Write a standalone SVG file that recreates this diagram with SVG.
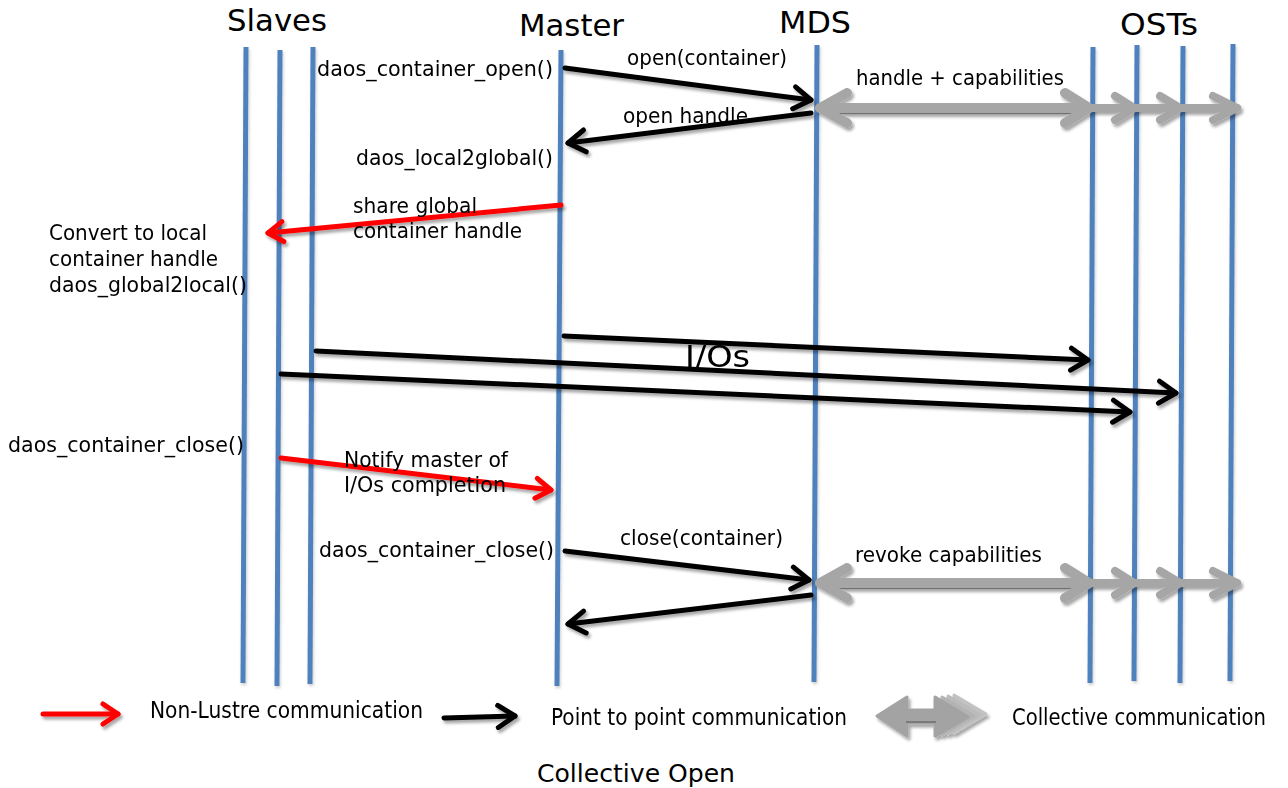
<svg xmlns="http://www.w3.org/2000/svg" width="1288" height="788" viewBox="0 0 1288 788">
  <style>
    .life { stroke: #4F81BD; stroke-width: 5; fill: none; }
    .hdr { font-family: "DejaVu Sans", Verdana, sans-serif; font-size: 31px; fill: #000; }
    .lbl { font-family: "DejaVu Sans", Verdana, sans-serif; font-size: 20.5px; fill: #000; }
    .leg { font-family: "DejaVu Sans", Verdana, sans-serif; font-size: 23px; fill: #000; }
    .cap { font-family: "DejaVu Sans", Verdana, sans-serif; font-size: 24px; fill: #000; }
    .p2p { stroke: #000; stroke-width: 5; fill: none; stroke-linecap: round; }
    .nonl { stroke: #FF0000; stroke-width: 5; fill: none; stroke-linecap: round; }
    .coll { stroke: #A6A6A6; fill: none; stroke-linecap: round; stroke-linejoin: round; }
  </style>
  <defs>
    <filter id="shadow" filterUnits="userSpaceOnUse" x="0" y="0" width="1288" height="788">
      <feDropShadow dx="2" dy="3" stdDeviation="1.5" flood-color="#000" flood-opacity="0.35"/>
    </filter>
    <filter id="soft" filterUnits="userSpaceOnUse" x="0" y="0" width="1288" height="788">
      <feDropShadow dx="1" dy="2" stdDeviation="1.5" flood-color="#000" flood-opacity="0.2"/>
    </filter>
    <marker id="head-black" viewBox="-24 -14 28 28" refX="0" refY="0" markerWidth="28" markerHeight="28" markerUnits="userSpaceOnUse" orient="auto">
      <path d="M-17,-11 L0,0 L-17,11" fill="none" stroke="#000" stroke-width="5" stroke-linecap="round" stroke-linejoin="round"/>
    </marker>
    <marker id="head-red" viewBox="-24 -14 28 28" refX="0" refY="0" markerWidth="28" markerHeight="28" markerUnits="userSpaceOnUse" orient="auto">
      <path d="M-15,-10 L0,0 L-15,10" fill="none" stroke="#FF0000" stroke-width="5" stroke-linecap="round" stroke-linejoin="round"/>
    </marker>
    <!-- collective broadcast: MDS to every OST, drawn around y = 0 -->
    <g id="collective">
      <line x1="826" y1="4" x2="1084" y2="4" stroke="#6F6F6F" stroke-width="4" stroke-linecap="round"/>
      <line class="coll" x1="824" y1="0" x2="1086" y2="0" stroke-width="10"/>
      <line class="coll" x1="1086" y1="0" x2="1237" y2="0" stroke-width="8"/>
      <path class="coll" d="M847,-15 L820,0 L847,15" stroke-width="10"/>
      <path class="coll" d="M1065,-15 L1089,0 L1065,15" stroke-width="10"/>
      <path class="coll" d="M1115,-12 L1134,0 L1115,12" stroke-width="8"/>
      <path class="coll" d="M1160,-12 L1180,0 L1160,12" stroke-width="8"/>
      <path class="coll" d="M1213,-12 L1237,0 L1213,12" stroke-width="8"/>
    </g>
    <!-- one right-pointing head of the legend's collective symbol -->
    <path id="stack-head" d="M930,698 L962,717 L930,736 Z" stroke-width="3" stroke-linejoin="round"/>
  </defs>

  <rect width="1288" height="788" fill="#FFFFFF"/>

  <!-- lifelines -->
  <g filter="url(#soft)">
    <g id="slave-1"><line class="life" x1="246" y1="47" x2="243" y2="683"/></g>
    <g id="slave-2"><line class="life" x1="280" y1="50" x2="277" y2="686"/></g>
    <g id="slave-3"><line class="life" x1="313" y1="47" x2="310" y2="684"/></g>
    <g id="master"><line class="life" x1="561" y1="50" x2="557" y2="686"/></g>
    <g id="mds"><line class="life" x1="817" y1="45" x2="814" y2="682"/></g>
    <g id="ost-1"><line class="life" x1="1093" y1="47" x2="1090" y2="683"/></g>
    <g id="ost-2"><line class="life" x1="1137" y1="45" x2="1134" y2="681"/></g>
    <g id="ost-3"><line class="life" x1="1183" y1="46" x2="1180" y2="683"/></g>
    <g id="ost-4"><line class="life" x1="1233" y1="44" x2="1230" y2="681"/></g>
  </g>

  <!-- column headers -->
  <g id="headers">
    <text class="hdr" x="227" y="31" textLength="100" lengthAdjust="spacingAndGlyphs">Slaves</text>
    <text class="hdr" x="519" y="36" textLength="105" lengthAdjust="spacingAndGlyphs">Master</text>
    <text class="hdr" x="779" y="33" textLength="72" lengthAdjust="spacingAndGlyphs">MDS</text>
    <text class="hdr" x="1120" y="35" textLength="78" lengthAdjust="spacingAndGlyphs">OSTs</text>
  </g>

  <!-- messages -->
  <g id="connectors" filter="url(#shadow)">
    <line class="p2p" x1="565" y1="68" x2="811" y2="100" marker-end="url(#head-black)"/>
    <line class="p2p" x1="811" y1="113" x2="568" y2="143" marker-end="url(#head-black)"/>
    <line class="nonl" x1="561" y1="205" x2="268" y2="233" marker-end="url(#head-red)"/>
    <line class="p2p" x1="564" y1="336" x2="1088" y2="360" marker-end="url(#head-black)"/>
    <line class="p2p" x1="316" y1="351" x2="1176" y2="393" marker-end="url(#head-black)"/>
    <line class="p2p" x1="281" y1="374" x2="1130" y2="412" marker-end="url(#head-black)"/>
    <line class="nonl" x1="281" y1="458" x2="551" y2="490" marker-end="url(#head-red)"/>
    <line class="p2p" x1="565" y1="551" x2="809" y2="580" marker-end="url(#head-black)"/>
    <line class="p2p" x1="811" y1="595" x2="568" y2="624" marker-end="url(#head-black)"/>
    <use href="#collective" y="108"/>
    <use href="#collective" y="583"/>
  </g>

  <!-- message labels -->
  <g id="labels">
    <text class="lbl" x="317" y="76" textLength="236" lengthAdjust="spacingAndGlyphs">daos_container_open()</text>
    <text class="lbl" x="627" y="65" textLength="160" lengthAdjust="spacingAndGlyphs">open(container)</text>
    <text class="lbl" x="856" y="85" textLength="208" lengthAdjust="spacingAndGlyphs">handle + capabilities</text>
    <text class="lbl" x="623" y="123" textLength="125" lengthAdjust="spacingAndGlyphs">open handle</text>
    <text class="lbl" x="356" y="165" textLength="197" lengthAdjust="spacingAndGlyphs">daos_local2global()</text>
    <text class="lbl" x="353" y="213" textLength="124" lengthAdjust="spacingAndGlyphs">share global</text>
    <text class="lbl" x="353" y="238" textLength="169" lengthAdjust="spacingAndGlyphs">container handle</text>
    <text class="lbl" x="49" y="240" textLength="158" lengthAdjust="spacingAndGlyphs">Convert to local</text>
    <text class="lbl" x="49" y="266" textLength="169" lengthAdjust="spacingAndGlyphs">container handle</text>
    <text class="lbl" x="49" y="292" textLength="198" lengthAdjust="spacingAndGlyphs">daos_global2local()</text>
    <text class="hdr" x="685" y="367" textLength="65" lengthAdjust="spacingAndGlyphs">I/Os</text>
    <text class="lbl" x="8" y="452" textLength="236" lengthAdjust="spacingAndGlyphs">daos_container_close()</text>
    <text class="lbl" x="344" y="467" textLength="164" lengthAdjust="spacingAndGlyphs">Notify master of</text>
    <text class="lbl" x="344" y="492" textLength="162" lengthAdjust="spacingAndGlyphs">I/Os completion</text>
    <text class="lbl" x="319" y="557" textLength="235" lengthAdjust="spacingAndGlyphs">daos_container_close()</text>
    <text class="lbl" x="620" y="545" textLength="163" lengthAdjust="spacingAndGlyphs">close(container)</text>
    <text class="lbl" x="855" y="562" textLength="187" lengthAdjust="spacingAndGlyphs">revoke capabilities</text>
  </g>

  <!-- legend -->
  <g id="legend">
    <g filter="url(#shadow)">
      <line class="nonl" x1="43" y1="714" x2="118" y2="714" marker-end="url(#head-red)"/>
      <line class="p2p" x1="444" y1="718" x2="515" y2="716" marker-end="url(#head-black)"/>
      <use href="#stack-head" x="24" y="-3" fill="#C2C2C2" stroke="#C2C2C2"/>
      <use href="#stack-head" x="18" y="-2" fill="#BBBBBB" stroke="#BBBBBB"/>
      <use href="#stack-head" x="12" y="-1" fill="#B3B3B3" stroke="#B3B3B3"/>
      <use href="#stack-head" x="6" y="0" fill="#ABABAB" stroke="#ABABAB"/>
      <path d="M877,716 L907,697 L907,710 L935,710 L935,697 L968,717 L935,736 L935,723 L907,723 L907,736 Z" fill="#A3A3A3" stroke="#A3A3A3" stroke-width="3" stroke-linejoin="round"/>
      <line x1="906" y1="722" x2="936" y2="722" stroke="#7A7A7A" stroke-width="2"/>
    </g>
    <!-- legend captions use a narrowed face -->
    <g transform="scale(0.87,1)">
      <text class="leg" x="172.4" y="718" textLength="313.8" lengthAdjust="spacingAndGlyphs">Non-Lustre communication</text>
      <text class="leg" x="633.3" y="725" textLength="340.2" lengthAdjust="spacingAndGlyphs">Point to point communication</text>
      <text class="leg" x="1163.2" y="725" textLength="292" lengthAdjust="spacingAndGlyphs">Collective communication</text>
    </g>
  </g>

  <text class="cap" x="537" y="782" textLength="198" lengthAdjust="spacingAndGlyphs">Collective Open</text>
</svg>
